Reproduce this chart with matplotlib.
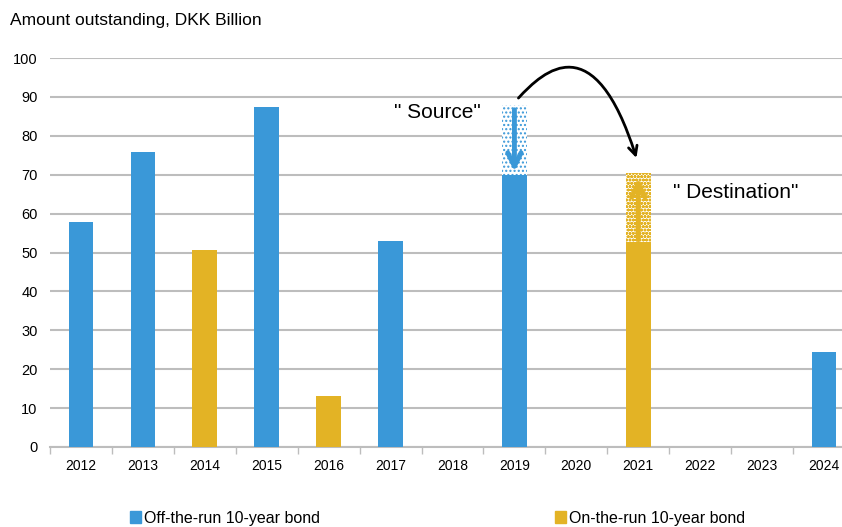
import numpy as np
import matplotlib
matplotlib.use("Agg")
import matplotlib.pyplot as plt
from matplotlib.patches import FancyArrowPatch, Patch
from matplotlib.path import Path

plt.rcParams["font.family"] = ["Liberation Sans", "DejaVu Sans"]

years = [str(y) for y in range(2012, 2025)]
off_the_run = [57.8, 75.8, 0, 87.4, 0, 53.0, 0, 69.8, 0, 0, 0, 0, 24.4]
on_the_run = [0, 0, 50.6, 0, 13.1, 0, 0, 0, 0, 52.6, 0, 0, 0]

# amount moved from the 2019 bond (source) into the 2021 bond (destination)
source_year, source_top = "2019", 87.9
dest_year, dest_top = "2021", 70.4

blue = "#3A98D8"
gold = "#E3B325"
grid_col = "#BDBDBD"

fig = plt.figure(figsize=(8.42, 5.27), dpi=100)
ax = fig.add_axes([50 / 842, 80 / 527, 805 / 842, 389 / 527])

x = np.arange(len(years))
w = 0.4
ax.bar(x, off_the_run, width=w, color=blue, zorder=3)
ax.bar(x, on_the_run, width=w, color=gold, zorder=3)

# hatched "moved" segments on top of the solid bars
si = years.index(source_year)
di = years.index(dest_year)
src_base = off_the_run[si]
dst_base = on_the_run[di]
ax.bar(si, source_top - src_base, bottom=src_base, width=w, facecolor="white",
       edgecolor=blue, linewidth=0, hatch="....", zorder=3)
ax.bar(di, dest_top - dst_base, bottom=dst_base, width=w, facecolor="white",
       edgecolor=gold, linewidth=0, hatch="ooooo", zorder=3)

ax.annotate("", xy=(si, src_base + 0.3), xytext=(si, source_top - 0.5),
            arrowprops=dict(arrowstyle="->", lw=3.5, color=blue, mutation_scale=24),
            zorder=4)
ax.annotate("", xy=(di, dest_top - 0.6), xytext=(di, dst_base),
            arrowprops=dict(arrowstyle="->", lw=3.5, color=gold, mutation_scale=24),
            zorder=4)

# curved arrow from source to destination
verts = [(7.065, 89.7), (7.48, 96.9), (8.29, 108.5), (8.97, 74.3)]
codes = [Path.MOVETO, Path.CURVE4, Path.CURVE4, Path.CURVE4]
curve = FancyArrowPatch(path=Path(verts, codes), arrowstyle="->", lw=2,
                        color="black", mutation_scale=16, clip_on=False, zorder=5)
ax.add_patch(curve)

ax.text(5.76, 85.9, '" Source"', fontsize=15, ha="center", va="center")
ax.text(10.58, 65.3, '" Destination"', fontsize=15, ha="center", va="center")

ax.set_xlim(-0.5, len(years) - 0.5)
ax.set_ylim(0, 100)
ax.set_yticks(range(0, 101, 10))
ax.set_xticks(x)
ax.set_xticklabels(years)
ax.set_xticks(np.arange(-0.5, len(years), 1), minor=True)
ax.tick_params(axis="x", which="major", length=0, pad=9, labelsize=10)
ax.tick_params(axis="x", which="minor", length=5, color=grid_col, width=1)
ax.tick_params(axis="y", length=0, pad=9, labelsize=10.5)

ax.grid(axis="y", color=grid_col, linewidth=1.5, zorder=0)
for side in ["top", "right", "left"]:
    ax.spines[side].set_visible(False)
ax.spines["bottom"].set_color(grid_col)
ax.spines["bottom"].set_linewidth(1.5)

fig.text(10 / 842, 1 - 20 / 527, "Amount outstanding, DKK Billion",
         fontsize=12.5, va="center", ha="left")

leg_kw = dict(loc="center left", frameon=False, borderpad=0, borderaxespad=0,
              handlelength=0.7, handleheight=0.7, handletextpad=0.15, fontsize=11.5)
fig.legend(handles=[Patch(color=blue, label="Off-the-run 10-year bond")],
           bbox_to_anchor=(130 / 842, 9 / 527), **leg_kw)
fig.legend(handles=[Patch(color=gold, label="On-the-run 10-year bond")],
           bbox_to_anchor=(555 / 842, 9 / 527), **leg_kw)

fig.savefig("out.png", dpi=100)
